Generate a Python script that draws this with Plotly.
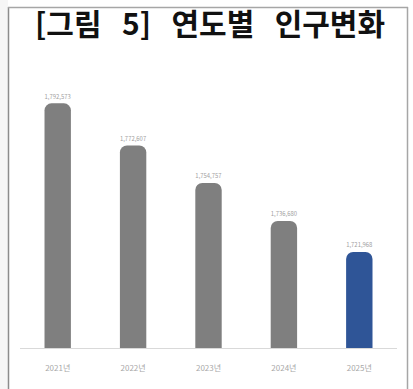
import plotly.graph_objects as go

years = ["2021년", "2022년", "2023년", "2024년", "2025년"]
population = [1792573, 1772607, 1754757, 1736680, 1721968]
labels = ["1,792,573", "1,772,607", "1,754,757", "1,736,680", "1,721,968"]
colors = ["#7f7f7f", "#7f7f7f", "#7f7f7f", "#7f7f7f", "#2f5597"]
title_words = ["[그림", "5]", "연도별", "인구변화"]

W, H = 413, 389
L, R, T, B = 20, 16, 90, 41  # plot area: x 20..397, y 90..348
pw, ph = W - L - R, H - T - B

ymin, ymax = 1676368, 1798918

def px(x):
    return (x - L) / pw

def py(y):
    return (H - B - y) / ph

fig = go.Figure(go.Bar(
    x=years, y=population,
    marker=dict(color=colors, line=dict(width=0), cornerradius=7),
    text=labels, textposition="outside", cliponaxis=False,
    textfont=dict(size=7, color="#a0a0a0", family="Noto Sans CJK KR"),
))

title_html = "<b>" + "&nbsp;&nbsp;&nbsp;".join(title_words) + "</b>"

fig.update_layout(
    width=W, height=H,
    margin=dict(l=L, r=R, t=T, b=B),
    paper_bgcolor="white", plot_bgcolor="white",
    bargap=0.65, showlegend=False,
    font=dict(family="Noto Sans CJK KR"),
    xaxis=dict(showgrid=False, showline=True, linecolor="#d9d9d9", linewidth=1,
               ticks="", ticklabelstandoff=12, tickfont=dict(size=8, color="#a8a8a8")),
    yaxis=dict(range=[ymin, ymax], visible=False, showgrid=False),
    shapes=[
        dict(type="rect", xref="paper", yref="paper", x0=px(0), x1=px(8), y0=py(400), y1=py(-5),
             fillcolor="#f6f6f6", line=dict(width=0), layer="below"),
        dict(type="line", xref="paper", yref="paper", x0=px(8.5), x1=px(8.5), y0=py(7), y1=py(395),
             line=dict(color="#8c8c8c", width=1.5)),
        dict(type="line", xref="paper", yref="paper", x0=px(407.5), x1=px(407.5), y0=py(7), y1=py(395),
             line=dict(color="#a6a6a6", width=1.5)),
        dict(type="line", xref="paper", yref="paper", x0=px(8), x1=px(408), y0=py(7.5), y1=py(7.5),
             line=dict(color="#a6a6a6", width=1.5)),
    ],
    annotations=[dict(
        text=title_html, xref="paper", yref="paper",
        x=px(210), y=py(22), xanchor="center", yanchor="middle", showarrow=False,
        font=dict(size=30, color="#111111", family="Noto Sans CJK KR"),
    )],
)

fig.write_html("out.html")
